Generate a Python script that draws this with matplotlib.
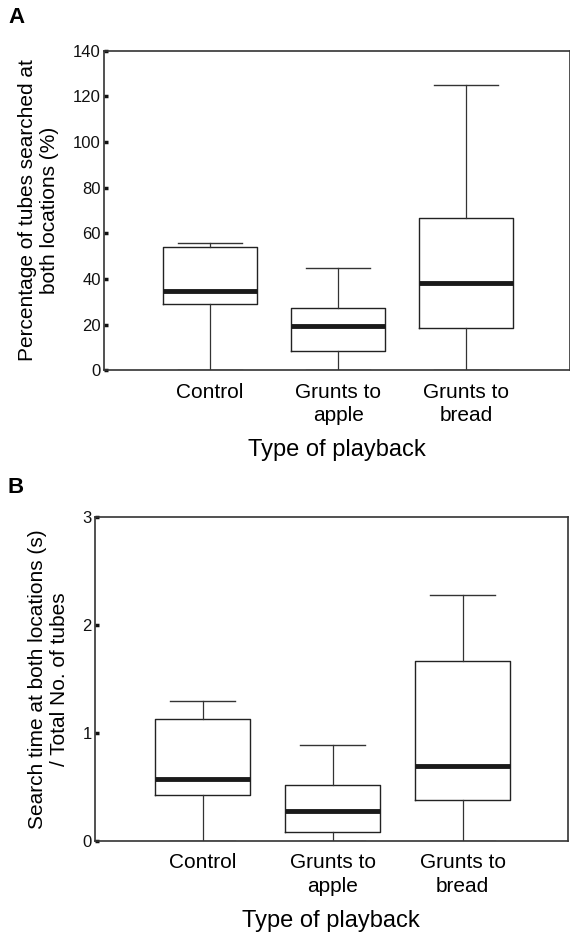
import matplotlib
matplotlib.use("Agg")
import matplotlib.pyplot as plt

plt.rcParams['font.family'] = ['Liberation Sans', 'DejaVu Sans']

# categories
groups = ['Control', 'Grunts to\napple', 'Grunts to\nbread']

# Panel A: percentage of tubes searched at both locations (%)
a_low = [0, 0, 0]
a_q1 = [28.9, 8.6, 18.7]
a_med = [34.6, 19.4, 38.4]
a_q3 = [54.2, 27.5, 66.8]
a_high = [56.0, 44.7, 125.1]

# Panel B: search time at both locations / total no. of tubes
b_low = [0, 0, 0]
b_q1 = [0.42, 0.08, 0.38]
b_med = [0.57, 0.28, 0.69]
b_q3 = [1.13, 0.516, 1.668]
b_high = [1.295, 0.883, 2.28]


def make_stats(low, q1, med, q3, high):
    return [dict(whislo=lo, q1=a, med=m, q3=b, whishi=hi, fliers=[])
            for lo, a, m, b, hi in zip(low, q1, med, q3, high)]


def draw_panel(ax, stats, ylim, yticks, ylabel, ypad):
    ax.bxp(stats, positions=[1, 2, 3], widths=0.73, capwidths=0.5,
           showfliers=False, patch_artist=False,
           boxprops=dict(color='#222222', linewidth=1.0),
           whiskerprops=dict(color='#333333', linewidth=0.9),
           capprops=dict(color='#333333', linewidth=1.0),
           medianprops=dict(color='#1a1a1a', linewidth=3.5, solid_capstyle='butt'))
    ax.set_xlim(0.17, 3.81)
    ax.set_ylim(*ylim)
    ax.set_yticks(yticks)
    ax.set_xticks([1, 2, 3])
    ax.set_xticklabels(groups, fontsize=15, linespacing=1.3)
    ax.tick_params(axis='x', length=0, pad=9)
    ax.tick_params(axis='y', direction='in', length=3, width=2.5, labelsize=12,
                   pad=2, colors='#111111')
    ax.set_xlabel('Type of playback', fontsize=17, labelpad=10)
    ax.set_ylabel(ylabel, fontsize=15, linespacing=1.2, labelpad=ypad)
    for s in ax.spines.values():
        s.set_color('#333333')
        s.set_linewidth(1.2)


fig = plt.figure(figsize=(5.7, 9.4), dpi=100)

axA = fig.add_axes([0.182, 0.606, 0.818, 0.34])
draw_panel(axA, make_stats(a_low, a_q1, a_med, a_q3, a_high),
           (0, 140), [0, 20, 40, 60, 80, 100, 120, 140],
           'Percentage of tubes searched at\nboth locations (%)', 10)

axB = fig.add_axes([0.166, 0.1056, 0.8305, 0.3444])
draw_panel(axB, make_stats(b_low, b_q1, b_med, b_q3, b_high),
           (0, 3), [0, 1, 2, 3],
           'Search time at both locations (s)\n/ Total No. of tubes', 10)

fig.text(0.014, 0.981, 'A', fontsize=16, fontweight='bold', va='center')
fig.text(0.014, 0.481, 'B', fontsize=16, fontweight='bold', va='center')

fig.savefig('out.png', dpi=100, facecolor='white')
